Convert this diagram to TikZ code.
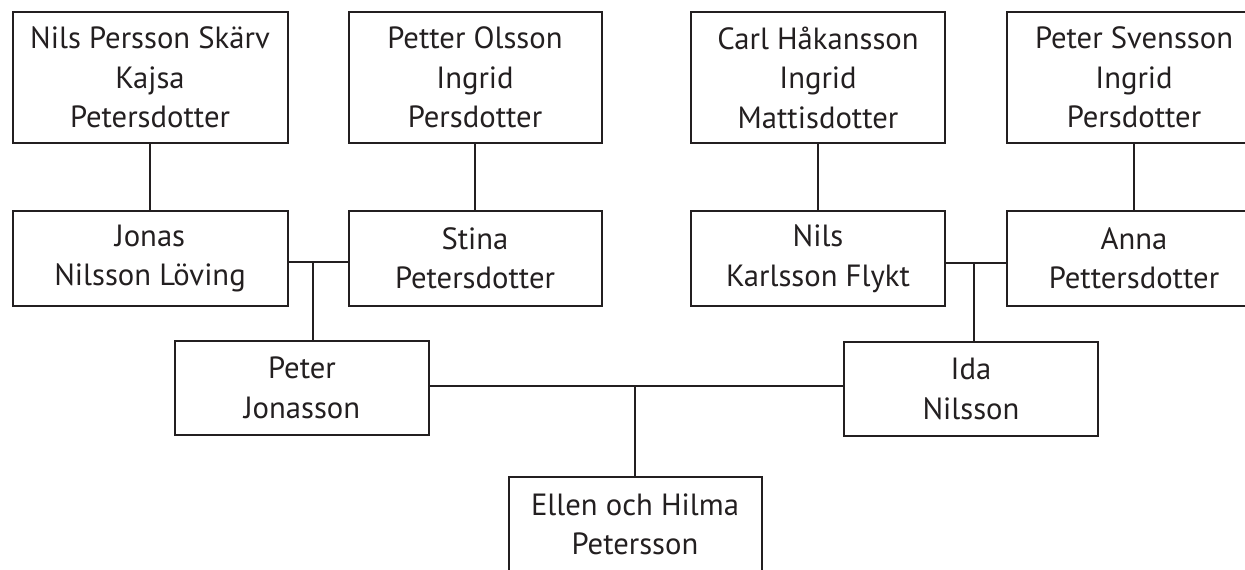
\documentclass[tikz,border=0pt]{standalone}
\usepackage{fontspec}
\setmainfont{PT Sans}
\definecolor{inkline}{RGB}{35,31,32}

\tikzset{every picture/.style={line width=1.5pt}}
\tikzset{
  person/.style={draw=inkline, text=inkline, align=center, inner sep=0.75pt,
    minimum width=254*0.75pt, minimum height=95*0.75pt,
    font=\fontsize{23}{29.6}\selectfont},
  couple/.style={person, minimum height=131*0.75pt},
}

\begin{document}
\begin{tikzpicture}[x=0.75pt,y=0.75pt,yscale=-1,xscale=1]
\useasboundingbox (0,0) rectangle (1245,569);
\clip (0,0) rectangle (1245,569);

%Shape: Rectangle [id:nils]
\node [couple, minimum width=275*0.75pt] (nils) at (150,77.5) {Nils Persson Skärv\\Kajsa\\Petersdotter};
%Shape: Rectangle [id:petter]
\node [couple, minimum width=253*0.75pt] (petter) at (475,77.5) {Petter Olsson\\Ingrid\\Persdotter};
%Shape: Rectangle [id:carl]
\node [couple] (carl) at (818,77.5) {Carl Håkansson\\Ingrid\\Mattisdotter};
%Shape: Rectangle [id:peters]
\node [couple] (peters) at (1134,77.5) {Peter Svensson\\Ingrid\\Persdotter};

%Shape: Rectangle [id:jonas]
\node [person, minimum width=275*0.75pt] (jonas) at (150,258.5) {Jonas\\Nilsson Löving};
%Shape: Rectangle [id:stina]
\node [person, minimum width=253*0.75pt] (stina) at (475,258.5) {Stina\\Petersdotter};
%Shape: Rectangle [id:nilsk]
\node [person] (nilsk) at (818,258.5) {Nils\\Karlsson Flykt};
%Shape: Rectangle [id:anna]
\node [person] (anna) at (1134,258.5) {Anna\\Pettersdotter};

%Shape: Rectangle [id:peterj]
\node [person, minimum height=94*0.75pt] (peterj) at (302,388) {Peter\\Jonasson};
%Shape: Rectangle [id:ida]
\node [person, minimum height=94*0.75pt] (ida) at (971,389) {Ida\\Nilsson};
%Shape: Rectangle [id:ellen]
\node [person, minimum width=253*0.75pt] (ellen) at (635,524.5) {Ellen och Hilma\\Petersson};

%Straight Lines [id:parents]
\draw [inkline] (nils) -- (jonas);
\draw [inkline] (petter) -- (stina);
\draw [inkline] (carl) -- (nilsk);
\draw [inkline] (peters) -- (anna);

%Straight Lines [id:marriages]
\coordinate (wedjs) at (313,262);
\coordinate (wedna) at (974,263);
\coordinate (wedpi) at (635,386);
\draw [inkline] (jonas.east |- wedjs) -- (stina.west |- wedjs);
\draw [inkline] (wedjs) -- (wedjs |- peterj.north);
\draw [inkline] (nilsk.east |- wedna) -- (anna.west |- wedna);
\draw [inkline] (wedna) -- (wedna |- ida.north);
\draw [inkline] (peterj.east |- wedpi) -- (ida.west |- wedpi);
\draw [inkline] (wedpi) -- (ellen.north);

\end{tikzpicture}
\end{document}
